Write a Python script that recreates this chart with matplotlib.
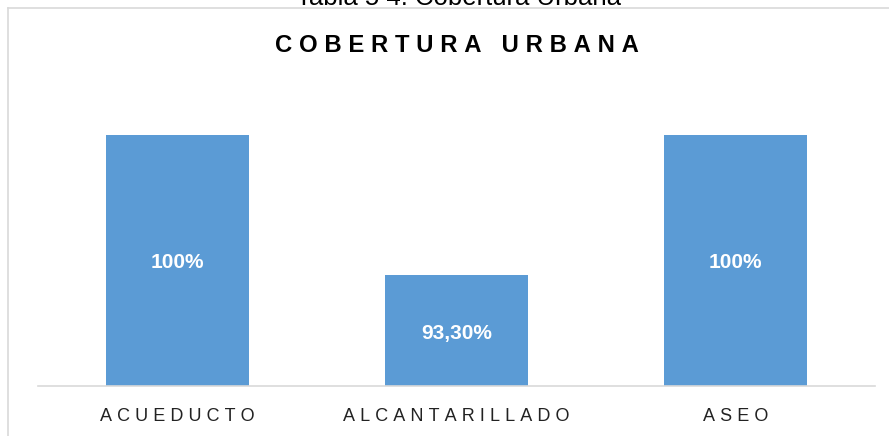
import matplotlib.pyplot as plt
from matplotlib.lines import Line2D

# --- datos ---
categorias = ["ACUEDUCTO", "ALCANTARILLADO", "ASEO"]
cobertura = [100, 93.3, 100]
etiquetas = ["100%", "93,30%", "100%"]

W, H = 889, 436
plt.rcParams['font.family'] = ['Liberation Sans', 'DejaVu Sans']

def spaced(s, sep="\u2009"):
    return sep.join(s)

fig = plt.figure(figsize=(W / 100, H / 100), dpi=100)
fig.patch.set_facecolor('white')

# marco del grafico (recortado a la derecha y abajo)
fig.add_artist(Line2D([8 / W, 8 / W], [0, 1 - 8 / H], color='#D9D9D9', lw=1.2))
fig.add_artist(Line2D([8 / W, 1], [1 - 8 / H, 1 - 8 / H], color='#D9D9D9', lw=1.2))

# texto de la tabla cortado arriba
fig.text(458 / W, 1 - 5 / H, "Tabla 5 4: Cobertura Urbana", ha='center', va='baseline',
         fontsize=18.5, color='black')

ax = fig.add_axes([38 / W, (H - 386) / H, (875 - 38) / W, (386 - 93) / H])
x = range(len(categorias))
bars = ax.bar(x, cobertura, width=0.513, color='#5B9BD5', zorder=2)
ax.set_ylim(88, 102)
ax.set_xlim(-0.5, 2.5)

for b, lab in zip(bars, etiquetas):
    ax.text(b.get_x() + b.get_width() / 2, (88 + b.get_height()) / 2 - 0.12, lab,
            ha='center', va='center', color='white', fontsize=15, fontweight='bold')

for s in ['top', 'right', 'left']:
    ax.spines[s].set_visible(False)
ax.spines['bottom'].set_color('#D9D9D9')
ax.spines['bottom'].set_linewidth(1.2)
ax.set_yticks([])
ax.set_xticks(list(x))
ax.set_xticklabels([spaced(c, "\u2009\u200a") for c in categorias], fontsize=13, color='#222222')
ax.tick_params(axis='x', length=0, pad=16)

fig.text(457 / W, 1 - 46 / H, spaced("COBERTURA URBANA", "\u2009\u200a"), ha='center', va='center',
         fontsize=17.2, fontweight='bold', color='black')

fig.savefig("out.png", dpi=100)
